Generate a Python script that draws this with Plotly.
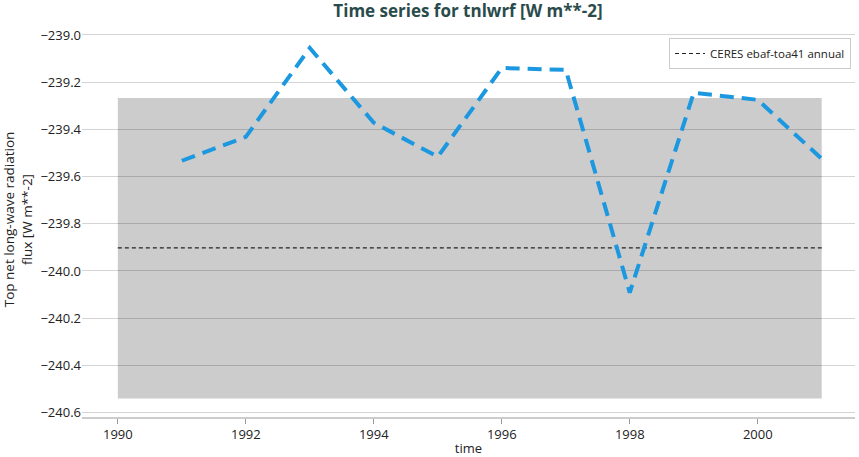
import plotly.graph_objects as go

years = [1991, 1992, 1993, 1994, 1995, 1996, 1997, 1998, 1999, 2000, 2001]
tnlwrf = [-239.533, -239.432, -239.055, -239.372, -239.516, -239.140, -239.148,
          -240.092, -239.245, -239.275, -239.525]

band_x = [1990, 2001]
band_low = -240.541
band_high = -239.267

ref_x = [1990, 2001]
ref_val = -239.902
ref_name = "CERES ebaf-toa41 annual"

xticks = [1990, 1992, 1994, 1996, 1998, 2000]
yticks = [-239.0, -239.2, -239.4, -239.6, -239.8, -240.0, -240.2, -240.4, -240.6]
ytick_text = ["\u2212%.1f" % abs(v) for v in yticks]

FONT = "Open Sans"

fig = go.Figure()

fig.add_shape(type="rect", xref="x", yref="y",
              x0=band_x[0], x1=band_x[1], y0=band_low, y1=band_high,
              fillcolor="#cccccc", line=dict(width=0), layer="below")

fig.add_trace(go.Scatter(
    x=ref_x, y=[ref_val, ref_val], mode="lines", name=ref_name,
    line=dict(color="#222222", width=1.2, dash="4px,3px"), showlegend=True))

fig.add_trace(go.Scatter(
    x=years, y=tnlwrf, mode="lines", name="tnlwrf",
    line=dict(color="#1c98e0", width=4, dash="14px,8px"), showlegend=False))

fig.update_layout(
    width=859, height=457,
    margin=dict(l=82, r=4, t=22, b=40, autoexpand=False),
    paper_bgcolor="white", plot_bgcolor="white",
    font=dict(family=FONT, size=12, color="#222222"),
    title=dict(text="<b>Time series for tnlwrf [W m**-2]</b>", x=468 / 859, xanchor="center",
               xref="container", yref="container",
               y=1 - 11 / 457, yanchor="middle",
               font=dict(family=FONT, size=17, color="#2a4b4b")),
    xaxis=dict(range=[1989.44, 2001.52], tickvals=xticks, ticks="outside",
               ticklen=5, tickcolor="#999999", showgrid=False, zeroline=False,
               showline=True, linecolor="#cccccc", linewidth=1.5, automargin=False,
               title=dict(text="time", standoff=2, font=dict(size=13)),
               tickfont=dict(size=13)),
    yaxis=dict(range=[-240.619, -238.945], tickvals=yticks, ticktext=ytick_text,
               showgrid=True, gridcolor="rgba(0,0,0,0.17)", gridwidth=1,
               zeroline=False, showline=False, ticks="", automargin=False,
               title=dict(text="Top net long-wave radiation<br>flux [W m**-2]",
                          standoff=5, font=dict(size=13.5)),
               tickfont=dict(size=13)),
    legend=dict(x=(851 - 82) / 773, xanchor="right", y=1 - (38 - 22) / 395, yanchor="top",
                bgcolor="white", bordercolor="#cccccc", borderwidth=1,
                font=dict(size=11.5), tracegroupgap=0, itemwidth=30),
)

fig.write_html("out.html", config={"displayModeBar": False},
               post_script="document.body.style.margin='0';document.body.style.overflow='hidden';")
